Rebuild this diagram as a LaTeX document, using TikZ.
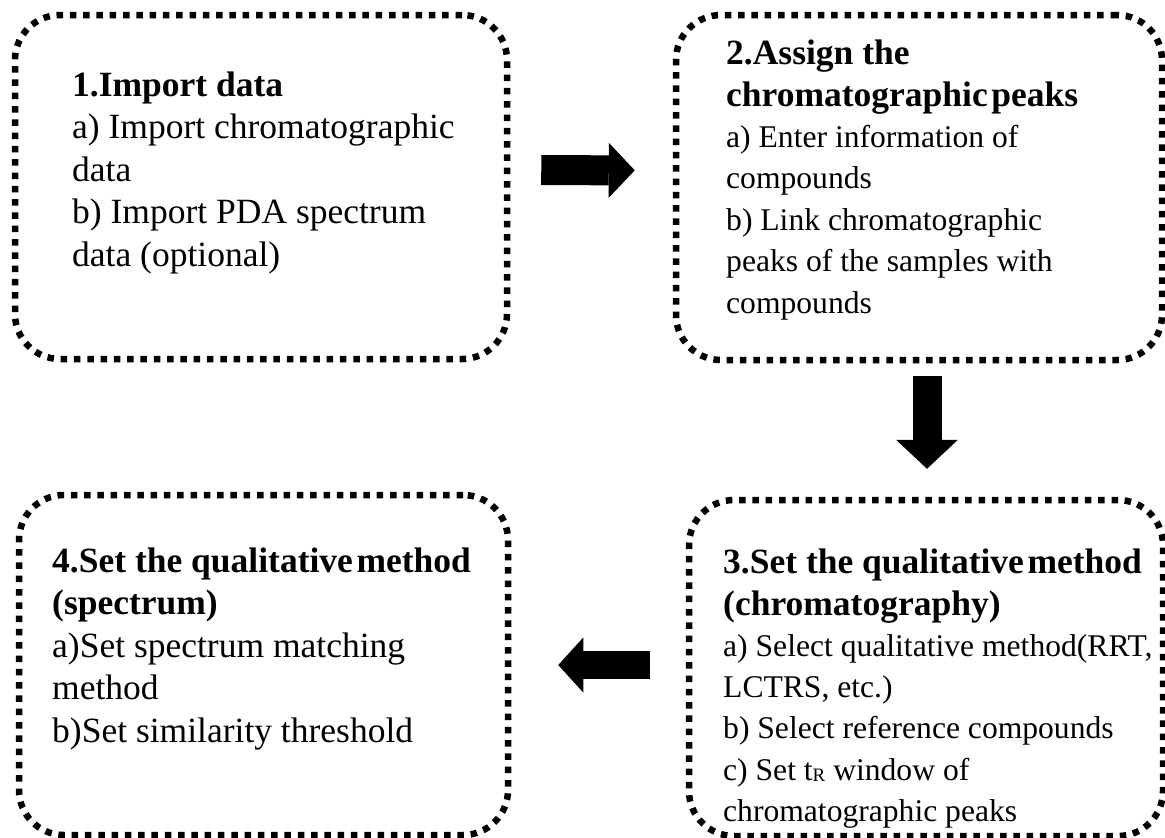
\documentclass[tikz,border=0pt]{standalone}
\usepackage{fontspec}
\setmainfont{Liberation Serif}
\usetikzlibrary{arrows.meta}
\newcommand{\titlefont}{\fontsize{35.5pt}{42.6pt}\selectfont\bfseries}
\newcommand{\bigbody}{\fontsize{35.5pt}{42.6pt}\selectfont}
\newcommand{\smallbody}{\fontsize{31.6pt}{41.5pt}\selectfont}
\newcommand{\boxstack}[1]{\vtop{\lineskiplimit=-100pt\lineskip=0pt #1}}
\newcommand{\stageline}[2]{\baselineskip=#1\hbox{#2}}
\newcommand{\tightsp}{\hspace{0.1em}}
\begin{document}
\begin{tikzpicture}[x=1pt,y=-1pt,
  stagebox/.style={rectangle, draw=black, line width=6.5pt, dash pattern=on 6.5pt off 6.8pt, rounded corners=45pt, inner sep=0pt},
  stagetext/.style={anchor=base west, inner sep=0pt, text=black},
  blockarrow/.style n args={3}{draw=black, line width=#1, -{Triangle[width=#2,length=#3,line width=0pt]}}]
\useasboundingbox (0,0) rectangle (1165,838);

\node[stagebox, minimum width=492pt, minimum height=344pt] (b1) at (261,187) {};
\node[stagebox, minimum width=486pt, minimum height=345pt] (b2) at (919,187.5) {};
\node[stagebox, minimum width=474pt, minimum height=336pt] (b3) at (926,668) {};
\node[stagebox, minimum width=489pt, minimum height=340pt] (b4) at (263.5,665) {};

\node[stagetext] (t1) at (72,96) {\boxstack{%
  \stageline{42.6pt}{\titlefont 1.Import data}%
  \stageline{42.6pt}{\bigbody a) Import chromatographic}%
  \stageline{42.6pt}{\bigbody data}%
  \stageline{42.6pt}{\bigbody b) Import PDA spectrum}%
  \stageline{42.6pt}{\bigbody data (optional)}}};

\node[stagetext] (t2) at (726,64) {\boxstack{%
  \stageline{42.6pt}{\titlefont 2.Assign the}%
  \stageline{42.6pt}{\titlefont chromatographic\tightsp peaks}%
  \stageline{40.6pt}{\smallbody a) Enter information of}%
  \stageline{41.5pt}{\smallbody compounds}%
  \stageline{41.5pt}{\smallbody b) Link chromatographic}%
  \stageline{41.5pt}{\smallbody peaks of the samples with}%
  \stageline{41.5pt}{\smallbody compounds}}};

\node[stagetext] (t3) at (723,573) {\boxstack{%
  \stageline{42.6pt}{\titlefont 3.Set the qualitative\tightsp method}%
  \stageline{42.6pt}{\titlefont (chromatography)}%
  \stageline{40.6pt}{\smallbody a) Select qualitative method(RRT,}%
  \stageline{41.3pt}{\smallbody LCTRS, etc.)}%
  \stageline{41.3pt}{\smallbody b) Select reference compounds}%
  \stageline{41.3pt}{\smallbody c) Set t\raisebox{-1pt}{\fontsize{19pt}{19pt}\selectfont R} window of}%
  \stageline{41.3pt}{\smallbody chromatographic peaks}}};

\node[stagetext] (t4) at (52,572) {\boxstack{%
  \stageline{42.6pt}{\titlefont 4.Set the qualitative\tightsp method}%
  \stageline{42.6pt}{\titlefont (spectrum)}%
  \stageline{42.6pt}{\bigbody a)Set spectrum matching}%
  \stageline{42.6pt}{\bigbody method}%
  \stageline{42.6pt}{\bigbody b)Set similarity threshold}}};

\draw[blockarrow={30pt}{55pt}{26pt}, shorten <=31pt, shorten >=38pt] ([yshift=17pt]b1.east) -- ([yshift=17pt]b2.west);
\draw[blockarrow={29pt}{62pt}{29pt}, shorten <=13pt, shorten >=28pt] ([xshift=8pt]b2.south) -- ([xshift=1pt]b3.north);
\draw[blockarrow={28pt}{55pt}{25pt}, shorten <=36pt, shorten >=47pt] ([yshift=3pt]b3.west) -- (b4.east);
\end{tikzpicture}
\end{document}
